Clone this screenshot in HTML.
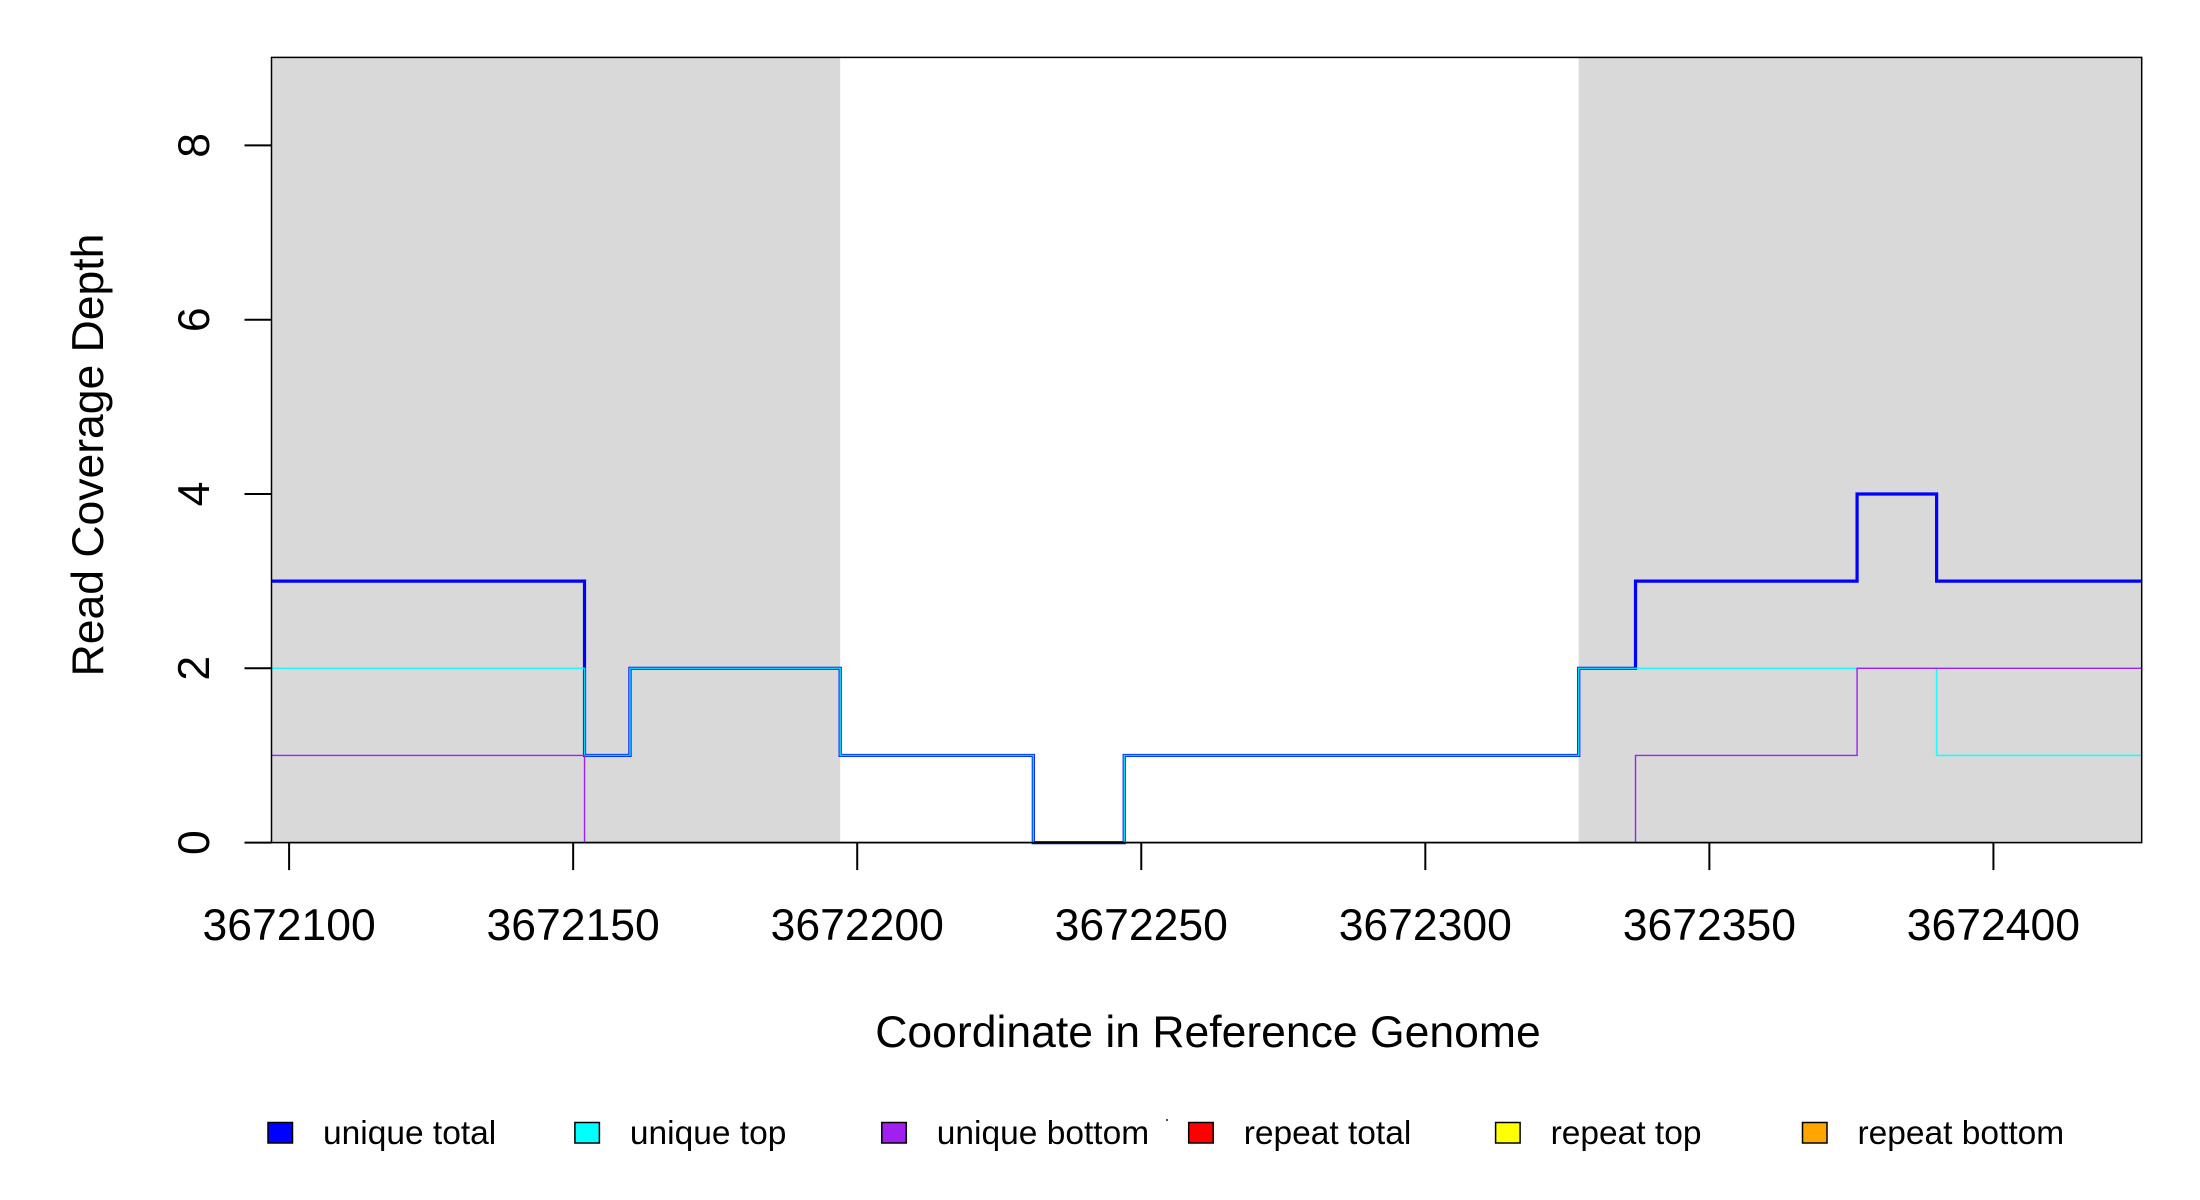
<!DOCTYPE html>
<html><head><meta charset="utf-8"><style>
html,body{margin:0;padding:0;background:#fff;}
svg{display:block;font-family:"Liberation Sans",sans-serif;}
</style></head><body>
<svg id="chart" width="2200" height="1200" viewBox="0 0 2200 1200" xmlns="http://www.w3.org/2000/svg">
<g id="bg"></g>
<g id="lines"></g>
<g id="axes"></g>
<text x="1208" y="1047" font-size="44.5" text-anchor="middle">Coordinate in Reference Genome</text>
<text transform="translate(103,455) rotate(-90)" font-size="44.5" text-anchor="middle">Read Coverage Depth</text>
<g id="legend"></g>
<rect x="1166" y="1119" width="2" height="2" fill="#555"/>
</svg>
<script>
const breaks = [3672097,3672152,3672160,3672197,3672231,3672247,3672327,3672337,3672376,3672390,3672426];
const uniqueTotal = [3,1,2,1,0,1,2,3,4,3];
const uniqueTop = [2,1,2,1,0,1,2,2,2,1];
const uniqueBottom = [1,0,0,0,0,0,0,1,2,2];
const repeatTotal = [0,0,0,0,0,0,0,0,0,0];
const repeatTop = [0,0,0,0,0,0,0,0,0,0];
const repeatBottom = [0,0,0,0,0,0,0,0,0,0];
const shadedRegions = [[3672096.9,3672197],[3672327,3672426.1]];
const xTicks = [3672100,3672150,3672200,3672250,3672300,3672350,3672400];
const yTicks = [0,2,4,6,8];
const legendLabels = ["unique total","unique top","unique bottom","repeat total","repeat top","repeat bottom"];
const legendColors = ["#0000ff","#00ffff","#a020f0","#ff0000","#ffff00","#ffa500"];

const NS="http://www.w3.org/2000/svg";
const L=271.5,R=2141.7,T=57.4,B=842.6;
const X0=3672096.9,X1=3672426.1,Y0=0,Y1=9.01;
const sx=v=>L+(v-X0)/(X1-X0)*(R-L);
const sy=v=>B-(v-Y0)/(Y1-Y0)*(B-T);
function mk(tag,attrs,parent){const e=document.createElementNS(NS,tag);for(const k in attrs)e.setAttribute(k,attrs[k]);parent.appendChild(e);return e;}

const bg=document.getElementById('bg');
shadedRegions.forEach(r=>{
  const e=mk('rect',{x:sx(r[0]),y:T,width:sx(r[1])-sx(r[0]),height:B-T,fill:'#d9d9d9'},bg);
  
  
});

function stepPath(vals){
  let d='M'+sx(breaks[0])+','+sy(vals[0]);
  for(let i=0;i<vals.length;i++){
    if(i>0) d+=' L'+sx(breaks[i])+','+sy(vals[i]);
    d+=' L'+sx(breaks[i+1])+','+sy(vals[i]);
  }
  return d;
}
const lines=document.getElementById('lines');
const series=[[uniqueTotal,'#0000ff',3.2,'unique-total-line'],[uniqueTop,'#00ffff',1.6,'unique-top-line'],[uniqueBottom,'#a020f0',1.4,'unique-bottom-line'],[repeatTotal,'#ff0000',1.4,'repeat-total-line'],[repeatTop,'#ffff00',1.2,'repeat-top-line'],[repeatBottom,'#ffa500',1.4,'repeat-bottom-line']];
series.forEach(s=>{
  const e=mk('path',{d:stepPath(s[0]),fill:'none',stroke:s[1],'stroke-width':s[2],'stroke-opacity':s[1]==='#00ffff'?0.85:(s[1]==='#ff0000'||s[1]==='#ffff00'?0.6:1)},lines);
  
  
});

const ax=document.getElementById('axes');
const box=mk('rect',{x:L,y:T,width:R-L,height:B-T,fill:'none',stroke:'#000','stroke-width':1.5},ax);


const xa=mk('line',{x1:sx(xTicks[0]),x2:sx(xTicks[xTicks.length-1]),y1:B,y2:B,stroke:'#000','stroke-width':1.5},ax);


xTicks.forEach(t=>{
  const l=mk('line',{x1:sx(t),x2:sx(t),y1:B,y2:B+27.5,stroke:'#000','stroke-width':2},ax);
  
  
  const tx=mk('text',{x:sx(t),y:940,'font-size':44.5,'text-anchor':'middle'},ax);
  tx.textContent=t;
  
  
});
yTicks.forEach(t=>{
  const l=mk('line',{x1:L-27,x2:L,y1:sy(t),y2:sy(t),stroke:'#000','stroke-width':2},ax);
  
  
  const tx=mk('text',{transform:'translate(209,'+sy(t)+') rotate(-90)','font-size':44.5,'text-anchor':'middle'},ax);
  tx.textContent=t;
  
  
});

const lg=document.getElementById('legend');
legendLabels.forEach((lab,i)=>{
  const bx=268+i*306.9;
  const r=mk('rect',{x:bx,y:1122.5,width:24.5,height:20.5,fill:legendColors[i],stroke:'#000','stroke-width':1.5},lg);
  
  
  const tx=mk('text',{x:bx+55,y:1144,'font-size':33.5},lg);
  tx.textContent=lab;
  
  
});
</script>
</body></html>
